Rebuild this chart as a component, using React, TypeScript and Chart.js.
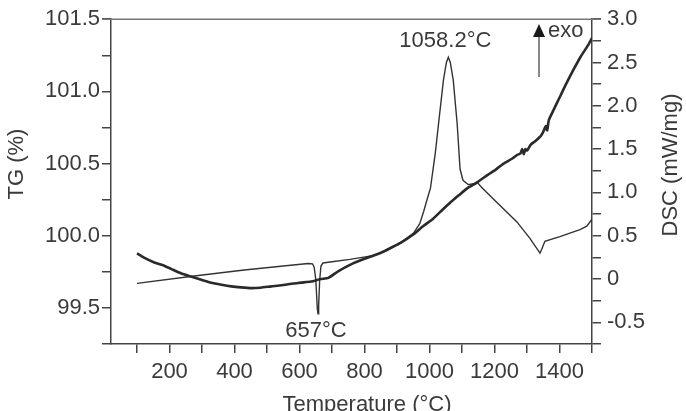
import React, { useEffect, useRef } from "react";
import { Chart, registerables } from "chart.js";

Chart.register(...registerables);

// ---- Data ----
const TG_TEMPS = [100, 120, 153, 180, 205, 235, 266, 300, 328, 360, 390, 420, 452, 480, 513, 545, 575, 605, 636, 665, 689, 720, 757, 800, 849, 880, 911, 951, 980, 1012, 1040, 1064, 1090, 1117, 1147, 1178, 1205, 1228, 1255, 1270, 1280, 1285, 1290, 1295, 1300, 1311, 1325, 1342, 1350, 1358, 1362, 1367, 1373, 1390, 1403, 1420, 1443, 1465, 1488, 1500];
const TG_VALUES = [99.877, 99.85, 99.815, 99.795, 99.77, 99.74, 99.717, 99.693, 99.674, 99.66, 99.649, 99.642, 99.637, 99.64, 99.649, 99.657, 99.667, 99.675, 99.683, 99.7, 99.708, 99.755, 99.8, 99.84, 99.88, 99.915, 99.95, 100.01, 100.065, 100.12, 100.18, 100.23, 100.28, 100.33, 100.37, 100.42, 100.46, 100.5, 100.535, 100.56, 100.57, 100.6, 100.565, 100.6, 100.59, 100.63, 100.655, 100.69, 100.72, 100.76, 100.73, 100.8, 100.83, 100.91, 100.97, 101.05, 101.15, 101.24, 101.32, 101.37];

const DSC_TEMPS = [100, 276, 430, 550, 627, 640, 645, 650, 655, 657, 659, 662, 666, 672, 700, 755, 826, 870, 911, 951, 970, 982, 995, 1003, 1018, 1028, 1043, 1052, 1058, 1064, 1073, 1085, 1094, 1103, 1119, 1135, 1146, 1160, 1195, 1269, 1309, 1340, 1345, 1355, 1401, 1463, 1484, 1500];
const DSC_VALUES = [-0.05, 0.035, 0.105, 0.15, 0.18, 0.175, 0.14, 0.0, -0.35, -0.4, -0.3, -0.02, 0.15, 0.185, 0.2, 0.227, 0.27, 0.33, 0.42, 0.53, 0.64, 0.78, 0.95, 1.05, 1.46, 1.8, 2.3, 2.5, 2.56, 2.5, 2.3, 1.8, 1.27, 1.14, 1.09, 1.1, 1.12, 1.06, 0.93, 0.66, 0.47, 0.3, 0.34, 0.435, 0.49, 0.57, 0.61, 0.69];

const X_TICKS = [100, 200, 300, 400, 500, 600, 700, 800, 900, 1000, 1100, 1200, 1300, 1400, 1500];
const X_LABELS = [200, 400, 600, 800, 1000, 1200, 1400];
const TG_TICKS = [99.25, 99.5, 99.75, 100, 100.25, 100.5, 100.75, 101, 101.25, 101.5];
const TG_LABELS = [99.5, 100, 100.5, 101, 101.5];
const DSC_TICKS = [-0.75, -0.5, -0.25, 0, 0.25, 0.5, 0.75, 1, 1.25, 1.5, 1.75, 2, 2.25, 2.5, 2.75, 3];
const DSC_LABELS = [-0.5, 0, 0.5, 1, 1.5, 2, 2.5, 3];

const PEAK_LABEL = "1058.2°C";
const DIP_LABEL = "657°C";

const FONT = '"Liberation Sans", Arial, Helvetica, sans-serif';
const TEXT = "#3a3a3a";
const AXIS = "#444";

const overlay = {
  id: "overlay",
  afterDraw(chart: any) {
    const { ctx, chartArea: a, scales } = chart;
    ctx.save();
    // top border
    ctx.strokeStyle = "#777";
    ctx.lineWidth = 1.5;
    ctx.beginPath();
    ctx.moveTo(a.left - 9, a.top);
    ctx.lineTo(a.right + 9, a.top);
    ctx.stroke();

    ctx.fillStyle = TEXT;
    ctx.font = `22px ${FONT}`;
    ctx.textBaseline = "alphabetic";
    ctx.textAlign = "center";
    // axis titles
    ctx.save();
    ctx.translate(17, 164);
    ctx.rotate(-Math.PI / 2);
    ctx.textBaseline = "middle";
    ctx.fillText("TG (%)", 0, 0);
    ctx.restore();

    ctx.save();
    ctx.translate(671, 165);
    ctx.rotate(-Math.PI / 2);
    ctx.textBaseline = "middle";
    ctx.fillText("DSC (mW/mg)", 0, 0);
    ctx.restore();

    ctx.fillText("Temperature (°C)", 367, 411);

    // annotations
    const xs = scales.x;
    ctx.fillText(PEAK_LABEL, xs.getPixelForValue(1058) - 3, 47);
    ctx.fillText(DIP_LABEL, xs.getPixelForValue(657) - 2, 337);

    // exo arrow
    const ax = 539;
    ctx.strokeStyle = "#888";
    ctx.lineWidth = 2;
    ctx.beginPath();
    ctx.moveTo(ax, 77);
    ctx.lineTo(ax, 36);
    ctx.stroke();
    ctx.fillStyle = "#1a1a1a";
    ctx.beginPath();
    ctx.moveTo(ax, 24);
    ctx.lineTo(ax - 6, 37);
    ctx.lineTo(ax + 6, 37);
    ctx.closePath();
    ctx.fill();
    ctx.fillStyle = TEXT;
    ctx.textAlign = "left";
    ctx.fillText("exo", 548, 37);
    ctx.restore();
  },
};

export default function App() {
  const ref = useRef<HTMLCanvasElement>(null);
  useEffect(() => {
    if (!ref.current) return;
    const tickFont = { family: FONT, size: 22 };
    const chart = new Chart(ref.current, {
      type: "line",
      data: {
        datasets: [
          {
            label: "TG",
            data: TG_TEMPS.map((t, i) => ({ x: t, y: TG_VALUES[i] })),
            yAxisID: "y",
            borderColor: "#2a2a2a",
            borderWidth: 2.6,
            pointRadius: 0,
            tension: 0.2,
          },
          {
            label: "DSC",
            data: DSC_TEMPS.map((t, i) => ({ x: t, y: DSC_VALUES[i] })),
            yAxisID: "y2",
            borderColor: "#333",
            borderWidth: 1.4,
            pointRadius: 0,
            tension: 0,
          },
        ],
      },
      options: {
        animation: false,
        responsive: true,
        maintainAspectRatio: false,
        layout: { padding: { top: 15, left: 0, right: 0, bottom: 0 } },
        plugins: { legend: { display: false }, tooltip: { enabled: false } },
        scales: {
          x: {
            type: "linear",
            min: 20,
            max: 1500,
            afterBuildTicks: (s: any) => {
              s.ticks = X_TICKS.map((v) => ({ value: v }));
            },
            afterFit: (s: any) => {
              s.height = 67;
            },
            ticks: {
              autoSkip: false,
              maxRotation: 0,
              font: tickFont,
              color: TEXT,
              padding: 6,
              callback: (v: any) => (X_LABELS.includes(Number(v)) ? String(v) : ""),
            },
            grid: { drawOnChartArea: false, drawTicks: true, tickLength: 9, color: AXIS, lineWidth: 1.5 },
            border: { display: true, color: AXIS, width: 1.5 },
          },
          y: {
            type: "linear",
            position: "left",
            min: 99.25,
            max: 101.5,
            afterBuildTicks: (s: any) => {
              s.ticks = TG_TICKS.map((v) => ({ value: v }));
            },
            afterFit: (s: any) => {
              s.width = 111;
            },
            ticks: {
              autoSkip: false,
              font: tickFont,
              color: TEXT,
              padding: 2,
              callback: (v: any) => (TG_LABELS.includes(Number(v)) ? Number(v).toFixed(1) : ""),
            },
            grid: { drawOnChartArea: false, drawTicks: true, tickLength: 9, color: AXIS, lineWidth: 1.5 },
            border: { display: true, color: AXIS, width: 1.5 },
          },
          y2: {
            type: "linear",
            position: "right",
            min: -0.75,
            max: 3,
            afterBuildTicks: (s: any) => {
              s.ticks = DSC_TICKS.map((v) => ({ value: v }));
            },
            afterFit: (s: any) => {
              s.width = 94;
            },
            ticks: {
              autoSkip: false,
              font: tickFont,
              color: TEXT,
              padding: 6,
              callback: (v: any) => {
                const n = Number(v);
                if (!DSC_LABELS.includes(n)) return "";
                return n === 0 ? "0" : n.toFixed(1);
              },
            },
            grid: { drawOnChartArea: false, drawTicks: true, tickLength: 9, color: AXIS, lineWidth: 1.5 },
            border: { display: true, color: AXIS, width: 1.5 },
          },
        },
      },
      plugins: [overlay],
    } as any);
    return () => chart.destroy();
  }, []);

  return (
    <div style={{ position: "fixed", left: 0, top: 0, width: 686, height: 411, background: "#fff" }}>
      <canvas ref={ref} />
    </div>
  );
}
